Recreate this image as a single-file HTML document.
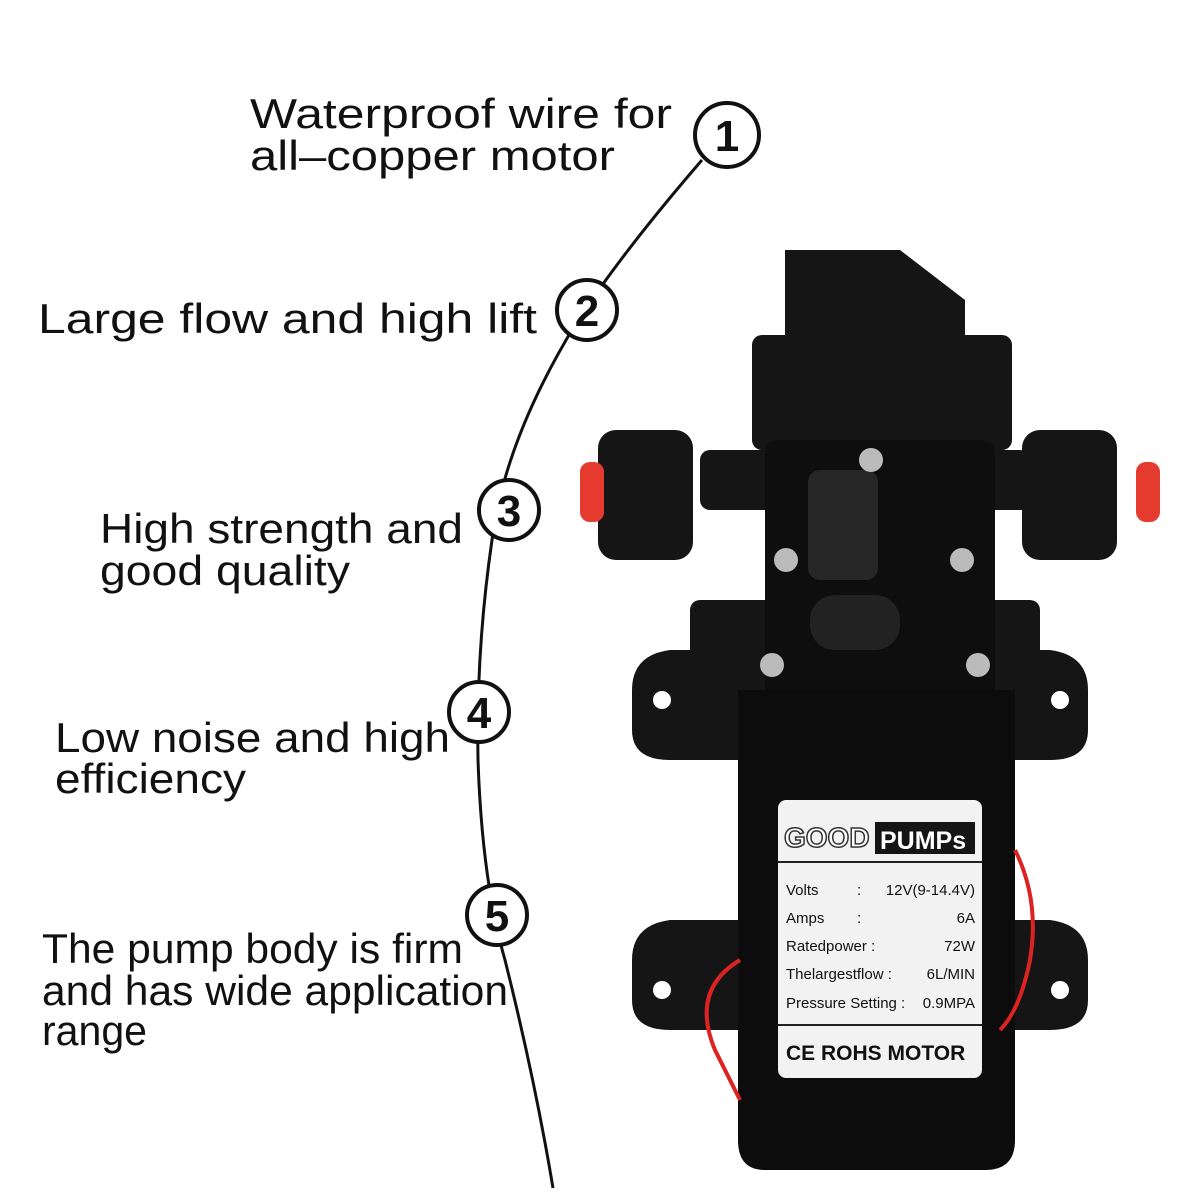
<!DOCTYPE html>
<html><head><style>
html,body{margin:0;padding:0;background:#fff;width:1200px;height:1200px;overflow:hidden}
svg{display:block}
.t{font-family:"Liberation Sans",sans-serif;font-size:42px;fill:#111}
.n{font-family:"Liberation Sans",sans-serif;font-size:44px;font-weight:bold;fill:#111;text-anchor:middle}
.l{font-family:"Liberation Sans",sans-serif;font-size:15px;fill:#111}
</style></head><body>
<svg width="1200" height="1200" viewBox="0 0 1200 1200">
<path d="M702,160 Q620,255 575,325 Q505,440 492,540 Q476,650 478,760 Q482,880 505,960 Q535,1080 553,1188" fill="none" stroke="#111" stroke-width="3"/>
<g stroke="#111" stroke-width="4" fill="#fff">
<circle cx="727" cy="135" r="32"/><circle cx="587" cy="310" r="30"/><circle cx="509" cy="510" r="30"/><circle cx="479" cy="712" r="30"/><circle cx="497" cy="915" r="30"/></g>
<text class="n" x="727" y="151">1</text><text class="n" x="587" y="326">2</text><text class="n" x="509" y="526">3</text><text class="n" x="479" y="728">4</text><text class="n" x="497" y="931">5</text>
<g lengthAdjust="spacingAndGlyphs">
<text class="t" x="250" y="128" textLength="422" lengthAdjust="spacingAndGlyphs">Waterproof wire for</text>
<text class="t" x="250" y="170" textLength="365" lengthAdjust="spacingAndGlyphs">all–copper motor</text>
<text class="t" x="38" y="333" textLength="499" lengthAdjust="spacingAndGlyphs">Large flow and high lift</text>
<text class="t" x="100" y="543" textLength="363" lengthAdjust="spacingAndGlyphs">High strength and</text>
<text class="t" x="100" y="585" textLength="250" lengthAdjust="spacingAndGlyphs">good quality</text>
<text class="t" x="55" y="752" textLength="395" lengthAdjust="spacingAndGlyphs">Low noise and high</text>
<text class="t" x="55" y="793" textLength="191" lengthAdjust="spacingAndGlyphs">efficiency</text>
<text class="t" x="42" y="963" textLength="421" lengthAdjust="spacingAndGlyphs">The pump body is firm</text>
<text class="t" x="42" y="1005" textLength="466" lengthAdjust="spacingAndGlyphs">and has wide application</text>
<text class="t" x="42" y="1045" textLength="105" lengthAdjust="spacingAndGlyphs">range</text>
</g>
<!-- pump -->
<g fill="#151515">
<path d="M785,250 L900,250 L965,300 L965,450 L785,450 Z"/>
<rect x="752" y="335" width="260" height="115" rx="10"/>
<path d="M632,690 Q632,655 670,650 L1050,650 Q1088,655 1088,690 L1088,730 Q1088,760 1050,760 L670,760 Q632,760 632,730 Z"/>
<path d="M632,960 Q632,925 670,920 L1050,920 Q1088,925 1088,960 L1088,1000 Q1088,1030 1050,1030 L670,1030 Q632,1030 632,1000 Z"/>
<rect x="700" y="450" width="330" height="60" rx="10"/>
<rect x="598" y="430" width="95" height="130" rx="18"/>
<rect x="1022" y="430" width="95" height="130" rx="18"/>
<rect x="690" y="600" width="350" height="120" rx="10"/>
<path d="M765,450 Q765,440 780,440 L980,440 Q995,440 995,455 L995,690 L765,690 Z" fill="#0e0e0e"/>
<path d="M738,690 L1015,690 L1015,1140 Q1015,1170 985,1170 L765,1170 Q738,1170 738,1140 Z" fill="#0c0c0c"/>
</g>
<rect x="580" y="462" width="24" height="60" rx="10" fill="#e43b2e"/>
<rect x="1136" y="462" width="24" height="60" rx="10" fill="#e43b2e"/>
<rect x="808" y="470" width="70" height="110" rx="12" fill="#262626"/>
<rect x="810" y="595" width="90" height="55" rx="25" fill="#222"/>
<g fill="#bbb"><circle cx="871" cy="460" r="12"/><circle cx="786" cy="560" r="12"/><circle cx="962" cy="560" r="12"/><circle cx="772" cy="665" r="12"/><circle cx="978" cy="665" r="12"/></g>
<g fill="#fff"><circle cx="662" cy="700" r="9"/><circle cx="1060" cy="700" r="9"/><circle cx="662" cy="990" r="9"/><circle cx="1060" cy="990" r="9"/></g>
<path d="M1015,850 Q1040,900 1030,960 Q1020,1010 1000,1030" fill="none" stroke="#d22" stroke-width="4"/>
<path d="M740,960 Q690,990 715,1050 Q735,1090 740,1100" fill="none" stroke="#d22" stroke-width="4"/>
<rect x="778" y="800" width="204" height="278" rx="8" fill="#f2f2f2"/>
<text x="784" y="847" font-family="Liberation Sans" font-size="28" font-weight="bold" fill="#fff" stroke="#333" stroke-width="1.5">GOOD</text>
<rect x="875" y="822" width="100" height="32" fill="#151515"/>
<text x="880" y="849" font-family="Liberation Sans" font-size="25" font-weight="bold" fill="#fff">PUMPs</text>
<line x1="778" y1="862" x2="982" y2="862" stroke="#222" stroke-width="2"/>
<text class="l" x="786" y="895">Volts</text><text class="l" x="857" y="895">:</text><text class="l" x="975" y="895" text-anchor="end">12V(9-14.4V)</text>
<text class="l" x="786" y="923">Amps</text><text class="l" x="857" y="923">:</text><text class="l" x="975" y="923" text-anchor="end">6A</text>
<text class="l" x="786" y="951">Ratedpower :</text><text class="l" x="975" y="951" text-anchor="end">72W</text>
<text class="l" x="786" y="979">Thelargestflow :</text><text class="l" x="975" y="979" text-anchor="end">6L/MIN</text>
<text class="l" x="786" y="1008">Pressure Setting :</text><text class="l" x="975" y="1008" text-anchor="end">0.9MPA</text>
<line x1="778" y1="1025" x2="982" y2="1025" stroke="#222" stroke-width="2"/>
<text x="786" y="1060" font-family="Liberation Sans" font-size="21" font-weight="bold" fill="#111">CE ROHS MOTOR</text>
</svg>
</body></html>
